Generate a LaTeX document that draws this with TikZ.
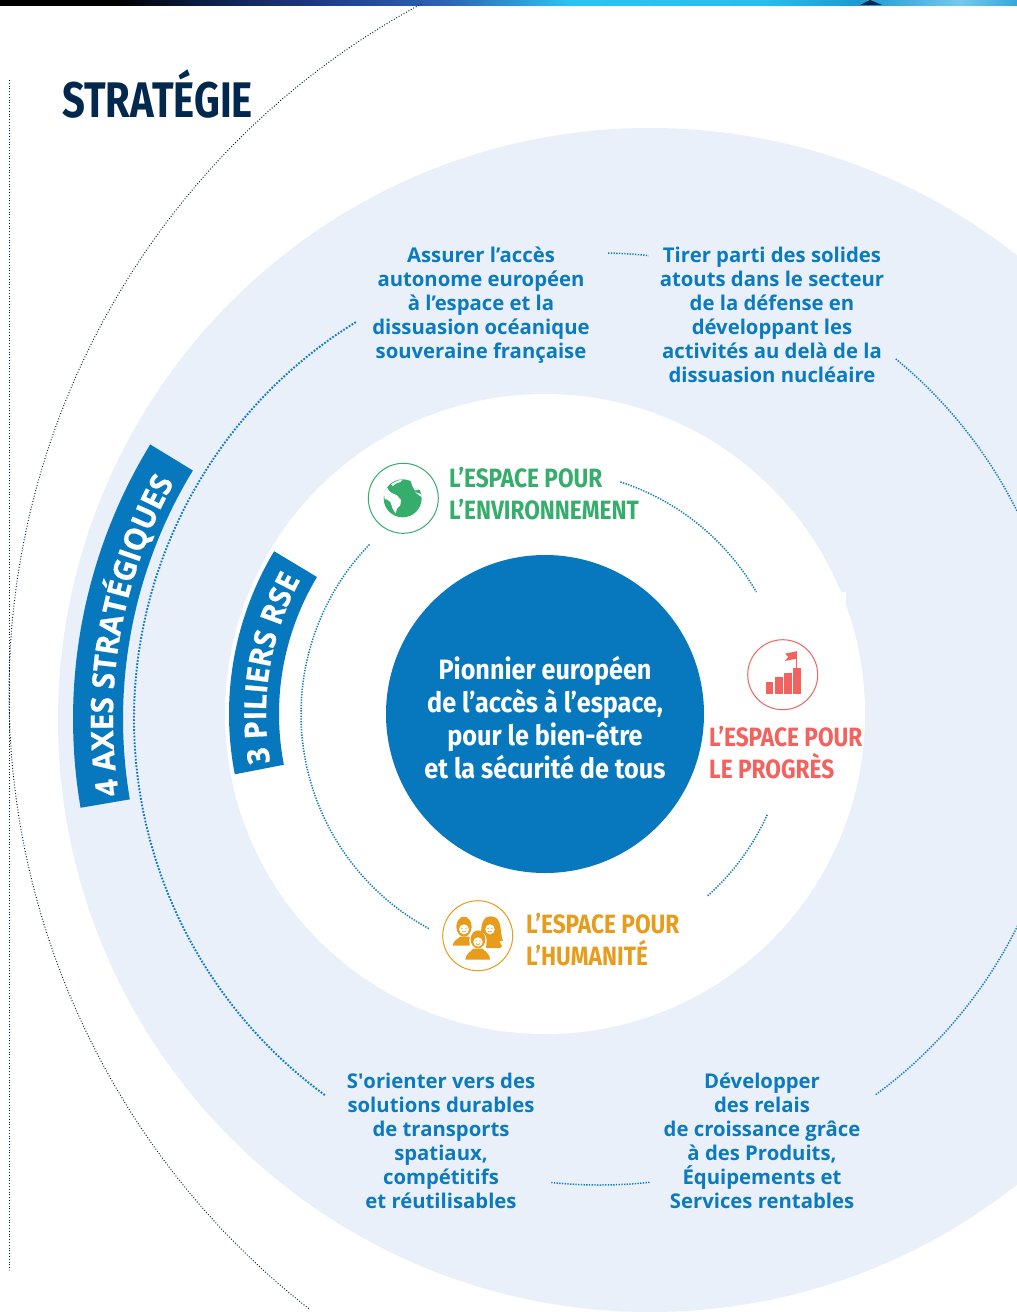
\documentclass[tikz,border=0pt]{standalone}
\usepackage{fontspec}
\usetikzlibrary{decorations.text}
\setmainfont{Open Sans}
\newfontfamily\condfont[FakeStretch=0.8]{Fira Sans}
\newfontfamily\pillarfont[FakeStretch=0.855]{Fira Sans}
\newfontfamily\corefont[FakeStretch=0.9]{Fira Sans}
\newfontfamily\bandfont[FakeStretch=0.957,BoldFeatures={FakeBold=0.6}]{Open Sans}
\definecolor{mainblue}{HTML}{0878BE}
\definecolor{textblue}{HTML}{0B7ABF}
\definecolor{lightdisc}{HTML}{E9F0F9}
\definecolor{navy}{HTML}{02294D}
\definecolor{greenc}{HTML}{35AD6B}
\definecolor{redc}{HTML}{F2635F}
\definecolor{orangec}{HTML}{E89C1C}
\tikzset{
  bluedots/.style={draw=textblue,line width=1.9pt,dash pattern=on 1.7pt off 1.6pt},
  finedots/.style={draw=textblue,line width=1.5pt,dash pattern=on 1.3pt off 1.4pt},
  blackdots/.style={draw=navy!70!black,line width=1pt,dash pattern=on .9pt off 1.9pt},
  bodytext/.style={text=textblue,font=\fontsize{20.3}{24}\selectfont\bfseries,align=center,inner sep=0pt},
  pillar/.style={font=\fontsize{26.5}{32}\selectfont\pillarfont\bfseries,align=left,inner sep=0pt,anchor=west},
  iconring/.style={circle,draw,line width=1pt,fill=white,minimum size=70pt,inner sep=0pt}
}
\begin{document}
\begin{tikzpicture}[x=1pt,y=1pt]
\useasboundingbox (0,-1312) rectangle (1017,0);
\fill[white] (0,-1312) rectangle (1017,0);
\begin{scope}
\clip (0,-1312) rectangle (1017,0);
% backdrop discs
\fill[lightdisc] (650,-720) circle (592pt);
\fill[white] (545,-714) circle (320pt);
\fill[white] (840,-592) rectangle (846,-605);
\fill[mainblue] (545,-714) circle (159pt);
% top strip
\foreach \xa/\xb/\ca/\cb in {
  0/117/000000/000000,117/200/000000/0B1D44,200/325/0B1D44/1F3C8C,
  325/450/1F3C8C/2E66B6,450/570/2E66B6/2BC4F2,570/765/2BC4F2/28BEEE,
  765/857/28BEEE/1A9AD2,857/960/1A9AD2/74C8EE,960/1017/74C8EE/35A8D8}{
  \definecolor{ca}{HTML}{\ca}\definecolor{cb}{HTML}{\cb}
  \shade[left color=ca,right color=cb,shading angle=90] (\xa,-5) rectangle (\xb+.5,0);
}
\fill[navy] (860,-5) -- (870,0) -- (882,-5) -- cycle;
% large black dotted arc and rule
\draw[blackdots] ([shift={(791,-693)}]118.2:782pt) arc[start angle=118.2,end angle=232,radius=782pt];
\draw[blackdots] (9,-80) -- (9,-1270);
% dotted arcs, outer ring
\draw[bluedots] ([shift={(600,-719)}]121.6:466pt) arc[start angle=121.6,end angle=233.8,radius=466pt];
\draw[finedots] ([shift={(600,-719)}]50.6:466pt) arc[start angle=50.6,end angle=20,radius=466pt];
\draw[finedots] ([shift={(600,-719)}]-26:466pt) arc[start angle=-26,end angle=-53.8,radius=466pt];
\draw[finedots] ([shift={(600,-719)}]89:466pt) arc[start angle=89,end angle=84,radius=466pt];
\draw[finedots] ([shift={(600,-719)}]-83.9:466pt) arc[start angle=-83.9,end angle=-96,radius=466pt];
% dotted arcs, inner ring
\draw[finedots] ([shift={(545,-714)}]72:244pt) arc[start angle=72,end angle=30,radius=244pt];
\draw[finedots] ([shift={(545,-714)}]-24.4:244pt) arc[start angle=-24.4,end angle=-48.3,radius=244pt];
\draw[finedots] ([shift={(545,-714)}]136:244pt) arc[start angle=136,end angle=241.6,radius=244pt];
% curved banners
\fill[mainblue] ([shift={(600,-719)}]148.6:477pt) arc[start angle=148.6,end angle=189.7,radius=477pt]
  -- ([shift={(600,-719)}]189.7:527pt) arc[start angle=189.7,end angle=148.6,radius=527pt] -- cycle;
\fill[mainblue] ([shift={(545,-714)}]149:266pt) arc[start angle=149,end angle=191,radius=266pt]
  -- ([shift={(545,-714)}]191:316pt) arc[start angle=191,end angle=149,radius=316pt] -- cycle;
\path[decorate,decoration={text along path,text align=center,
  text={|\fontsize{31}{31}\selectfont\bandfont\bfseries\color{white}|4 AXES STRATÉGIQUES}}]
  ([shift={(600,-719)}]190.5:487pt) arc[start angle=190.5,end angle=149.4,radius=487pt];
\path[decorate,decoration={text along path,text align=center,
  text={|\fontsize{30.5}{30.5}\selectfont\bandfont\bfseries\color{white}|3 PILIERS RSE}}]
  ([shift={(545,-714)}]191.6:279pt) arc[start angle=191.6,end angle=149.6,radius=279pt];
\end{scope}
% title
\node[anchor=base west,inner sep=0pt,text=navy,font=\fontsize{50}{50}\selectfont\condfont\bfseries] (title) at (62,-117) {STRATÉGIE};
% centre text
\node[align=center,inner sep=0pt,text=white,font=\fontsize{28}{33}\selectfont\corefont\bfseries] (core) at (545,-717.5) {Pionnier européen\\de l’accès à l’espace,\\pour le bien-être\\et la sécurité de tous};
% axes
\node[bodytext] (axe1) at (481,-305) {Assurer l’accès\\autonome européen\\à l’espace et la\\dissuasion océanique\\souveraine française};
\node[bodytext] (axe2) at (772,-315) {Tirer parti des solides\\atouts dans le secteur\\de la défense en\\développant les\\activités au delà de la\\dissuasion nucléaire};
\node[bodytext] (axe3) at (762,-1141) {Développer\\des relais\\de croissance grâce\\à des Produits,\\Équipements et\\Services rentables};
\node[bodytext] (axe4) at (441,-1141) {S\textquotesingle orienter vers des\\solutions durables\\de transports\\spatiaux,\\compétitifs\\et réutilisables};
% pillars
\node[pillar,text=greenc] (envtext) at (449,-494) {L’ESPACE POUR\\L’ENVIRONNEMENT};
\node[pillar,text=redc] (protext) at (709,-753) {L’ESPACE POUR\\LE PROGRÈS};
\node[pillar,text=orangec] (humtext) at (526,-940) {L’ESPACE POUR\\L’HUMANITÉ};
% icon rings
\node[iconring,draw=greenc] (envicon) at (403.3,-498.3) {};
\node[iconring,draw=redc] (proicon) at (782.7,-674.7) {};
\node[iconring,draw=orangec] (humicon) at (477.7,-935.7) {};
% globe
\begin{scope}[shift={(365,-460)},scale=1/3]
\fill[greenc] (113,-115) circle (57);
\fill[white] (57,-100) -- (66,-82) -- (72,-92) -- (80,-99) -- (96,-106) -- (108,-120) -- (106,-136) -- (96,-146) -- (92,-160) -- (84,-148) -- (76,-126) -- (66,-118) -- (59,-118) -- cycle;
\fill[white] (78,-72) -- (98,-62) -- (112,-59) -- (106,-66) -- (94,-70) -- (84,-78) -- cycle;
\fill[white] (137,-63) -- (150,-68) -- (172,-96) -- (160,-88) -- (150,-92) -- (143,-80) -- cycle;
\fill[white] (150,-96) -- (168,-102) -- (171,-112) -- (160,-104) -- cycle;
\end{scope}
% bars and flag
\begin{scope}[shift={(745,-637)},scale=1/3,fill=redc]
\fill (62,-135) rectangle (85,-172);
\fill (90,-121) rectangle (113,-172);
\fill (118,-108) rectangle (141,-172);
\fill (144,-93) rectangle (167,-172);
\fill (153,-93) rectangle (157,-42);
\fill (155,-43) -- (120,-50) -- (130,-60) -- (119,-72) -- (155,-65) -- cycle;
\end{scope}
% people
\begin{scope}[shift={(440,-898)},scale=1/3]
% woman
\fill[orangec] (120,-128) .. controls (126,-110) and (116,-55) .. (152,-55) .. controls (190,-55) and (178,-105) .. (189,-128) -- (170,-132) -- (130,-132) -- cycle;
\fill[orangec] (126,-125) -- (176,-125) -- (186,-145) -- (180,-150) -- (110,-150) -- cycle;
\fill[white] (150,-94) ellipse (14 and 15);
% man
\fill[orangec] (38,-143) .. controls (40,-126) and (54,-124) .. (60,-116) -- (86,-116) .. controls (94,-124) and (106,-126) .. (110,-143) -- cycle;
\fill[orangec] (72,-86) ellipse (23 and 30);
\fill[white] (72,-94) ellipse (15 and 15);
% child, set off in white
\fill[white] (70,-190) -- (70,-172) .. controls (72,-160) and (84,-158) .. (90,-152) -- (88,-125) .. controls (90,-92) and (138,-92) .. (140,-125) -- (138,-152) .. controls (144,-158) and (156,-160) .. (158,-172) -- (158,-190) -- cycle;
\fill[orangec] (76,-185) .. controls (78,-165) and (92,-162) .. (100,-152) -- (128,-152) .. controls (136,-162) and (148,-165) .. (151,-185) -- cycle;
\fill[orangec] (114,-124) ellipse (22 and 27);
\fill[white] (114,-132) ellipse (14 and 14);
% faces
\foreach \fx/\fy in {72/-91,150/-91,114/-129}{
  \fill[orangec] (\fx-6,\fy) circle (2.2);
  \fill[orangec] (\fx+6,\fy) circle (2.2);
  \draw[orangec,line width=.6pt] (\fx-6,\fy-8) .. controls (\fx-2,\fy-12) and (\fx+2,\fy-12) .. (\fx+6,\fy-8);
}
\end{scope}
\end{tikzpicture}
\end{document}
